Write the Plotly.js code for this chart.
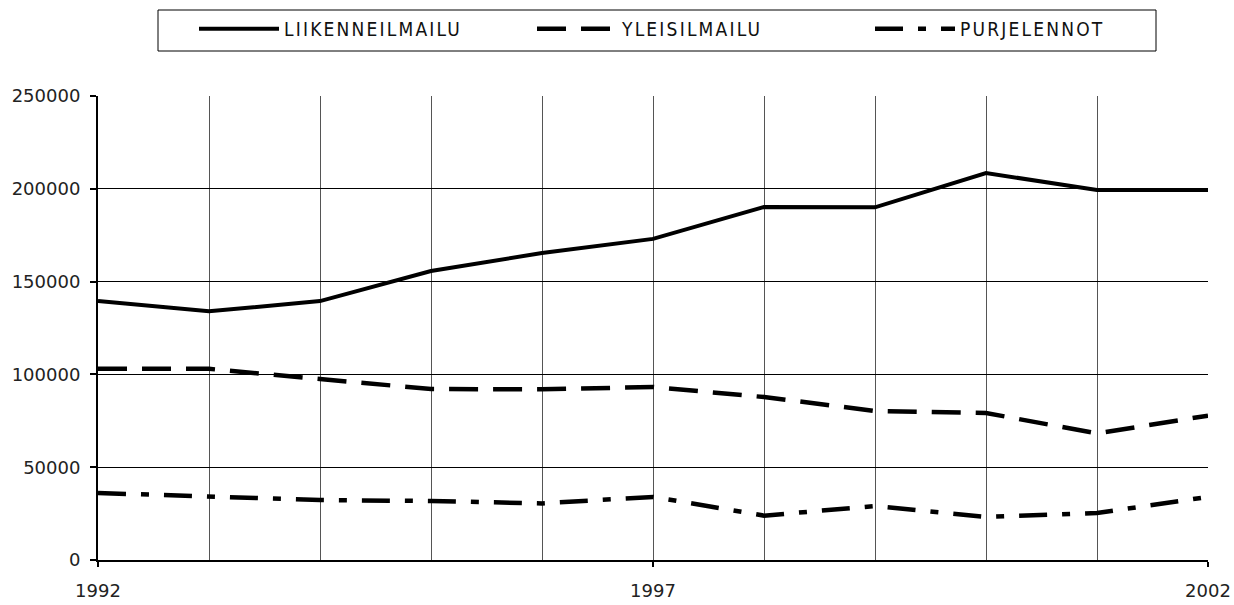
<!DOCTYPE html>
<html>
<head>
<meta charset="utf-8">
<script src="https://cdn.plot.ly/plotly-3.0.1.min.js"></script>
<style>
html,body{margin:0;padding:0;background:#fff;}
#chart{width:1234px;height:605px;}
text.legendtext, .infolayer .legend text{letter-spacing:2.2px !important;}
</style>
</head>
<body>
<div id="chart"></div>
<script>
var years = [1992,1993,1994,1995,1996,1997,1998,1999,2000,2001,2002];
var liikenneilmailu = [139500,134000,139500,155700,165400,173000,190200,190000,208500,199300,199300];
var yleisilmailu = [103000,103000,97500,92100,92000,93200,87800,80300,79200,68200,77800];
var purjelennot = [36100,34000,32300,31800,30500,34000,23900,29100,23200,25300,34000];
var seriesNames = ['LIIKENNEILMAILU','YLEISILMAILU','PURJELENNOT'];
var xTickVals = [1992,1997,2002];
var xTickText = ['1992','1997','2002'];
var yTickVals = [0,50000,100000,150000,200000,250000];

var W = 1234, H = 605;
var legFont = {family:'DejaVu Sans Condensed, DejaVu Sans, sans-serif', size:19, color:'#111'};

var traces = [
  {x:years, y:liikenneilmailu, name:seriesNames[0], type:'scatter', mode:'lines',
   line:{color:'#000', width:4, dash:'solid'}},
  {x:years, y:yleisilmailu, name:seriesNames[1], type:'scatter', mode:'lines',
   line:{color:'#000', width:4.5, dash:'29px,15px'}},
  {x:years, y:purjelennot, name:seriesNames[2], type:'scatter', mode:'lines',
   line:{color:'#000', width:4.5, dash:'28px,15px,8px,15px'}}
];

var layout = {
  width:W, height:H,
  margin:{l:98, r:26, t:96, b:45, pad:0},
  paper_bgcolor:'#fff', plot_bgcolor:'#fff',
  showlegend:true,
  font:{family:'DejaVu Sans, sans-serif', size:18, color:'#222'},
  legend:{xref:'container', yref:'container', x:194/W, y:1-29/H, xanchor:'left', yanchor:'middle',
    orientation:'h', itemwidth:80, entrywidth:243, entrywidthmode:'pixels', traceorder:'normal',
    font:legFont, bgcolor:'rgba(0,0,0,0)', borderwidth:0, tracegroupgap:0},
  xaxis:{
    range:[1992,2002], tickvals:xTickVals, ticktext:xTickText,
    showgrid:true, gridcolor:'#555', gridwidth:1,
    minor:{dtick:1, tick0:1992, showgrid:true, gridcolor:'#555', gridwidth:1, ticks:''},
    showline:true, linecolor:'#000', linewidth:2,
    ticks:'outside', ticklen:5, tickwidth:2, tickcolor:'#000',
    ticklabelstandoff:8, zeroline:false, fixedrange:true,
    tickfont:{family:'DejaVu Sans, sans-serif', size:18, color:'#222'}
  },
  yaxis:{
    range:[0,250000], tickvals:yTickVals, tickformat:'d',
    showgrid:true, gridcolor:'#000', gridwidth:1,
    showline:true, linecolor:'#000', linewidth:2,
    ticks:'outside', ticklen:6, tickwidth:2, tickcolor:'#000',
    ticklabelstandoff:6, zeroline:false, fixedrange:true,
    tickfont:{family:'DejaVu Sans, sans-serif', size:18, color:'#222'}
  },
  shapes:[
    {type:'rect', xref:'paper', yref:'paper',
     x0:(158-98)/1110, x1:(1156-98)/1110, y0:(560-51)/464, y1:(560-10)/464,
     line:{color:'#000', width:1}, fillcolor:'rgba(0,0,0,0)', layer:'above'}
  ]
};

var chartDiv = document.getElementById('chart');
function spaceLegend(){
  var ts = chartDiv.querySelectorAll('text.legendtext, .infolayer .legend text');
  for (var i = 0; i < ts.length; i++) {
    if (ts[i].getAttribute('letter-spacing') !== '2.2') ts[i].setAttribute('letter-spacing', '2.2');
  }
}
var obs = new MutationObserver(spaceLegend);
obs.observe(chartDiv, {childList:true, subtree:true});
Plotly.newPlot(chartDiv, traces, layout, {staticPlot:true, displayModeBar:false}).then(function(){
  spaceLegend();
  setTimeout(spaceLegend, 30);
});
</script>
</body>
</html>
